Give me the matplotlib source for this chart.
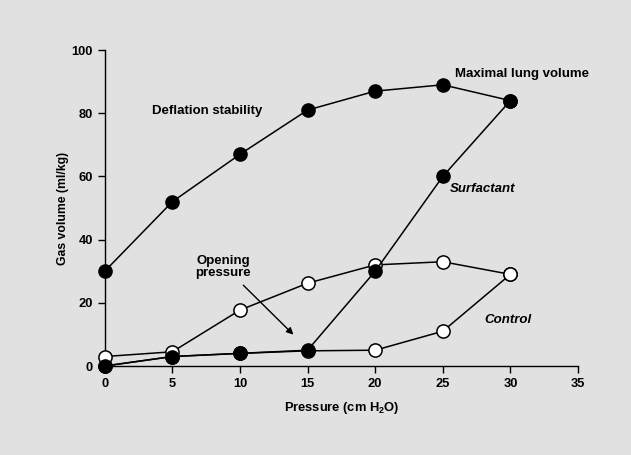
import matplotlib
matplotlib.use("Agg")
import matplotlib.pyplot as plt

pressure = [0, 5, 10, 15, 20, 25, 30]
surf_deflation = [30, 52, 67, 81, 87, 89, 84]
surf_inflation = [0, 3, 4, 5, 30, 60, 84]
ctrl_deflation = [3, 4.5, 17.7, 26.2, 32, 33, 29]
ctrl_inflation = [0, 3, 4, 4.8, 5, 11, 29]

xticks = [0, 5, 10, 15, 20, 25, 30, 35]
yticks = [0, 20, 40, 60, 80, 100]

plt.rcParams['font.family'] = ['Liberation Sans', 'DejaVu Sans']
bg = '#e1e1e1'
fig = plt.figure(figsize=(6.31, 4.55), dpi=100, facecolor=bg)
ax = fig.add_axes([0.166, 0.1956, 0.750, 0.6944])
ax.set_facecolor(bg)

lw = 1.1
ms = 9.5
ax.plot(pressure, ctrl_inflation, '-o', color='black', lw=lw, ms=ms,
        mfc='white', mec='black', mew=1.1, clip_on=False, zorder=3)
ax.plot(pressure, ctrl_deflation, '-o', color='black', lw=lw, ms=ms,
        mfc='white', mec='black', mew=1.1, clip_on=False, zorder=3)
ax.plot(pressure, surf_inflation, '-o', color='black', lw=lw, ms=ms,
        mfc='black', mec='black', clip_on=False, zorder=4)
ax.plot(pressure, surf_deflation, '-o', color='black', lw=lw, ms=ms,
        mfc='black', mec='black', clip_on=False, zorder=4)

ax.set_xlim(0, 35)
ax.set_ylim(0, 100)
ax.set_xticks(xticks)
ax.set_yticks(yticks)
for s in ['top', 'right']:
    ax.spines[s].set_visible(False)
for s in ['left', 'bottom']:
    ax.spines[s].set_linewidth(1.0)
ax.tick_params(direction='out', length=5, width=1.0, labelsize=9.3, pad=3.5)
for lab in ax.get_xticklabels() + ax.get_yticklabels():
    lab.set_fontweight('bold')

ax.set_xlabel('Pressure (cm H$_\\mathregular{2}$O)', fontsize=9.3, fontweight='bold', labelpad=7)
ax.set_ylabel('Gas volume (ml/kg)', fontsize=8.8, fontweight='bold', labelpad=2)

fs = 9.5
ax.text(3.5, 80.7, 'Deflation stability', fontsize=fs, fontweight='bold', va='center', ha='left')
ax.text(25.9, 92.4, 'Maximal lung volume', fontsize=fs, fontweight='bold', va='center', ha='left')
ax.text(25.5, 56, 'Surfactant', fontsize=fs, fontweight='bold', style='italic', va='center', ha='left')
ax.text(28.1, 14.6, 'Control', fontsize=fs, fontweight='bold', style='italic', va='center', ha='left')
ax.text(8.75, 31.2, 'Opening\npressure', fontsize=fs, fontweight='bold', va='center', ha='center',
        linespacing=1.0)
ax.annotate('', xy=(14.1, 9.3), xytext=(10.1, 26.2),
            arrowprops=dict(arrowstyle='-|>', color='black', lw=1.0, mutation_scale=10))

fig.savefig('out.png', dpi=100, facecolor=bg)
